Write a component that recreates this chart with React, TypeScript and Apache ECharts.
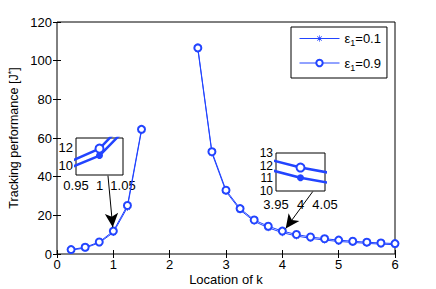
import React, { useEffect, useRef } from 'react';
import * as echarts from 'echarts';

// ---- data ----
const kLocations = [0.25, 0.5, 0.75, 1.0, 1.25, 1.5, 2.0, 2.5, 2.75, 3.0, 3.25, 3.5, 3.75, 4.0, 4.25, 4.5, 4.75, 5.0, 5.25, 5.5, 5.75, 6.0];
const perfEps01 = [2.0, 3.1, 5.8, 11.1, 24.1, 63.8, null, 106.0, 52.2, 32.3, 22.8, 16.9, 13.55, 11.05, 9.3, 8.1, 7.2, 6.5, 6.0, 5.5, 5.1, 4.8];
const perfEps09 = [2.3, 3.5, 6.2, 11.85, 25.1, 64.5, null, 106.6, 52.9, 33.0, 23.5, 17.6, 14.35, 11.85, 10.1, 8.8, 7.9, 7.2, 6.6, 6.1, 5.7, 5.4];
const seriesNames = ['eps01', 'eps09'];
const legendLabels = ['{e|ε}{s|1}{e|=0.1}', '{e|ε}{s|1}{e|=0.9}'];
const inset1XTicks = [0.95, 1, 1.05];
const inset1YTicks = [10, 12];
const inset2XTicks = [3.95, 4, 4.05];
const inset2YTicks = [10, 11, 12, 13];

const BLUE = '#2244ff';
const FONT = 'Liberation Sans, Arial, Helvetica, sans-serif';
const STAR =
  'path://M9,0 L11,0 L11,20 L9,20 Z M0,9 L20,9 L20,11 L0,11 Z ' +
  'M3.63,2.23 L17.77,16.37 L16.37,17.77 L2.23,3.63 Z ' +
  'M17.77,3.63 L3.63,17.77 L2.23,16.37 L16.37,2.23 Z';

const pairs = (vals: (number | null)[]) => kLocations.map((x, i) => [x, vals[i] === null ? '-' : vals[i]]);

export default function App() {
  const ref = useRef<HTMLDivElement>(null);
  useEffect(() => {
    if (!ref.current) return;
    const chart = echarts.init(ref.current, null, { renderer: 'svg' });
    const lbl = { color: '#000', fontSize: 13, fontFamily: FONT };
    const insetAxisX = (grid: number, ticks: number[], margin: number) => ({
      type: 'value', gridIndex: grid, min: ticks[0], max: ticks[ticks.length - 1],
      axisLine: { show: false }, splitLine: { show: false },
      axisTick: { show: false },
      axisLabel: { ...lbl, margin, customValues: ticks, showMinLabel: true, showMaxLabel: true, hideOverlap: false, formatter: (v: number) => String(v) },
    });
    const insetAxisY = (grid: number, ticks: number[], min: number, max: number, fs: number) => ({
      type: 'value', gridIndex: grid, min, max,
      axisLine: { show: false }, splitLine: { show: false },
      axisTick: { show: false },
      axisLabel: {
        ...lbl, fontSize: fs, lineHeight: fs, margin: 3, customValues: ticks,
        showMinLabel: true, showMaxLabel: true, hideOverlap: false, formatter: (v: number) => String(v),
      },
    });
    const insetSeries = (xi: number, yi: number) => [
      {
        type: 'line', name: 'in' + xi + 'a', xAxisIndex: xi, yAxisIndex: yi, data: pairs(perfEps01),
        symbol: 'circle', symbolSize: 7, lineStyle: { color: BLUE, width: 2.5 }, itemStyle: { color: BLUE },
        clip: true, silent: true,
      },
      {
        type: 'line', name: 'in' + xi + 'b', xAxisIndex: xi, yAxisIndex: yi, data: pairs(perfEps09),
        symbol: 'emptyCircle', symbolSize: 8, lineStyle: { color: BLUE, width: 2.5 },
        itemStyle: { color: BLUE, borderColor: BLUE, borderWidth: 2 }, clip: true, silent: true,
      },
    ];
    const gridBase = { show: true, borderColor: '#000', borderWidth: 1, containLabel: false, outerBoundsMode: 'none' };
    chart.setOption({
      animation: false,
      textStyle: { fontFamily: FONT },
      grid: [
        { ...gridBase, left: 57, top: 22, right: 41, bottom: 35, backgroundColor: 'transparent' },
        { ...gridBase, left: 76, top: 138, width: 47, height: 37, backgroundColor: '#fff' },
        { ...gridBase, left: 276, top: 153, width: 49, height: 38, backgroundColor: '#fff' },
      ],
      legend: {
        data: seriesNames,
        orient: 'vertical', left: 291, top: 27,
        itemWidth: 40, itemHeight: 8, itemGap: 9,
        padding: [5, 6, 6, 8],
        backgroundColor: '#fff', borderColor: '#000', borderWidth: 1, borderRadius: 0,
        lineStyle: { width: 1 },
        formatter: (n: string) => legendLabels[seriesNames.indexOf(n)],
        textStyle: {
          color: '#000', fontFamily: FONT, fontSize: 13,
          rich: {
            e: { fontSize: 13, color: '#000', fontFamily: FONT },
            s: { fontSize: 9, color: '#000', fontFamily: FONT, padding: [9, 0, 0, 0] },
          },
        },
        selectedMode: false,
      },
      xAxis: [
        {
          type: 'value', gridIndex: 0, min: 0, max: 6, interval: 1,
          name: 'Location of k', nameLocation: 'middle', nameGap: 19, nameMoveOverlap: false,
          nameTextStyle: { ...lbl, verticalAlign: 'top' },
          axisLine: { show: false }, splitLine: { show: false },
          axisTick: { inside: true, length: 4, lineStyle: { color: '#000' } },
          axisLabel: { ...lbl, margin: 4 },
        },
        {
          type: 'value', gridIndex: 0, position: 'top', min: 0, max: 6, interval: 1,
          axisLine: { show: false }, splitLine: { show: false },
          axisTick: { inside: true, length: 4, lineStyle: { color: '#000' } },
          axisLabel: { show: false },
        },
        insetAxisX(1, inset1XTicks, 4),
        insetAxisX(2, inset2XTicks, 7),
      ],
      yAxis: [
        {
          type: 'value', gridIndex: 0, min: 0, max: 120, interval: 20,
          name: '{a|Tracking performance [J}{p|*}{a|]}', nameLocation: 'middle', nameGap: 35, nameMoveOverlap: false,
          nameTextStyle: {
            rich: {
              a: { fontSize: 12.5, color: '#000', fontFamily: FONT },
              p: { fontSize: 9, color: '#000', fontFamily: FONT, padding: [0, 0, 7, 0] },
            },
          },
          axisLine: { show: false }, splitLine: { show: false },
          axisTick: { inside: true, length: 4, lineStyle: { color: '#000' } },
          axisLabel: { ...lbl, margin: 5 },
        },
        {
          type: 'value', gridIndex: 0, position: 'right', min: 0, max: 120, interval: 20,
          axisLine: { show: false }, splitLine: { show: false },
          axisTick: { inside: true, length: 4, lineStyle: { color: '#000' } },
          axisLabel: { show: false },
        },
        insetAxisY(1, inset1YTicks, 9, 13, 13),
        insetAxisY(2, inset2YTicks, 10, 13, 12),
      ],
      series: [
        {
          type: 'line', name: seriesNames[0], xAxisIndex: 0, yAxisIndex: 0, data: pairs(perfEps01),
          symbol: STAR, symbolSize: 7, lineStyle: { color: BLUE, width: 1 }, itemStyle: { color: BLUE },
          silent: true,
          markLine: {
            silent: true, symbol: ['none', 'arrow'], symbolSize: [10, 14],
            lineStyle: { color: '#000', width: 1, type: 'solid' }, itemStyle: { color: '#000' },
            label: { show: false }, emphasis: { disabled: true },
            data: [
              [{ coord: [0.905, 40.5] }, { coord: [0.99, 13.8] }],
              [{ coord: [4.54, 32.3] }, { coord: [4.06, 13.2] }],
            ],
          },
        },
        {
          type: 'line', name: seriesNames[1], xAxisIndex: 0, yAxisIndex: 0, data: pairs(perfEps09),
          symbol: 'emptyCircle', symbolSize: 7, lineStyle: { color: BLUE, width: 1 },
          itemStyle: { color: BLUE, borderColor: BLUE, borderWidth: 1 }, silent: true,
        },
        ...insetSeries(2, 2),
        ...insetSeries(3, 3),
      ],
    });
    return () => chart.dispose();
  }, []);
  return <div ref={ref} style={{ position: 'absolute', left: 0, top: 0, width: 436, height: 289 }} />;
}
